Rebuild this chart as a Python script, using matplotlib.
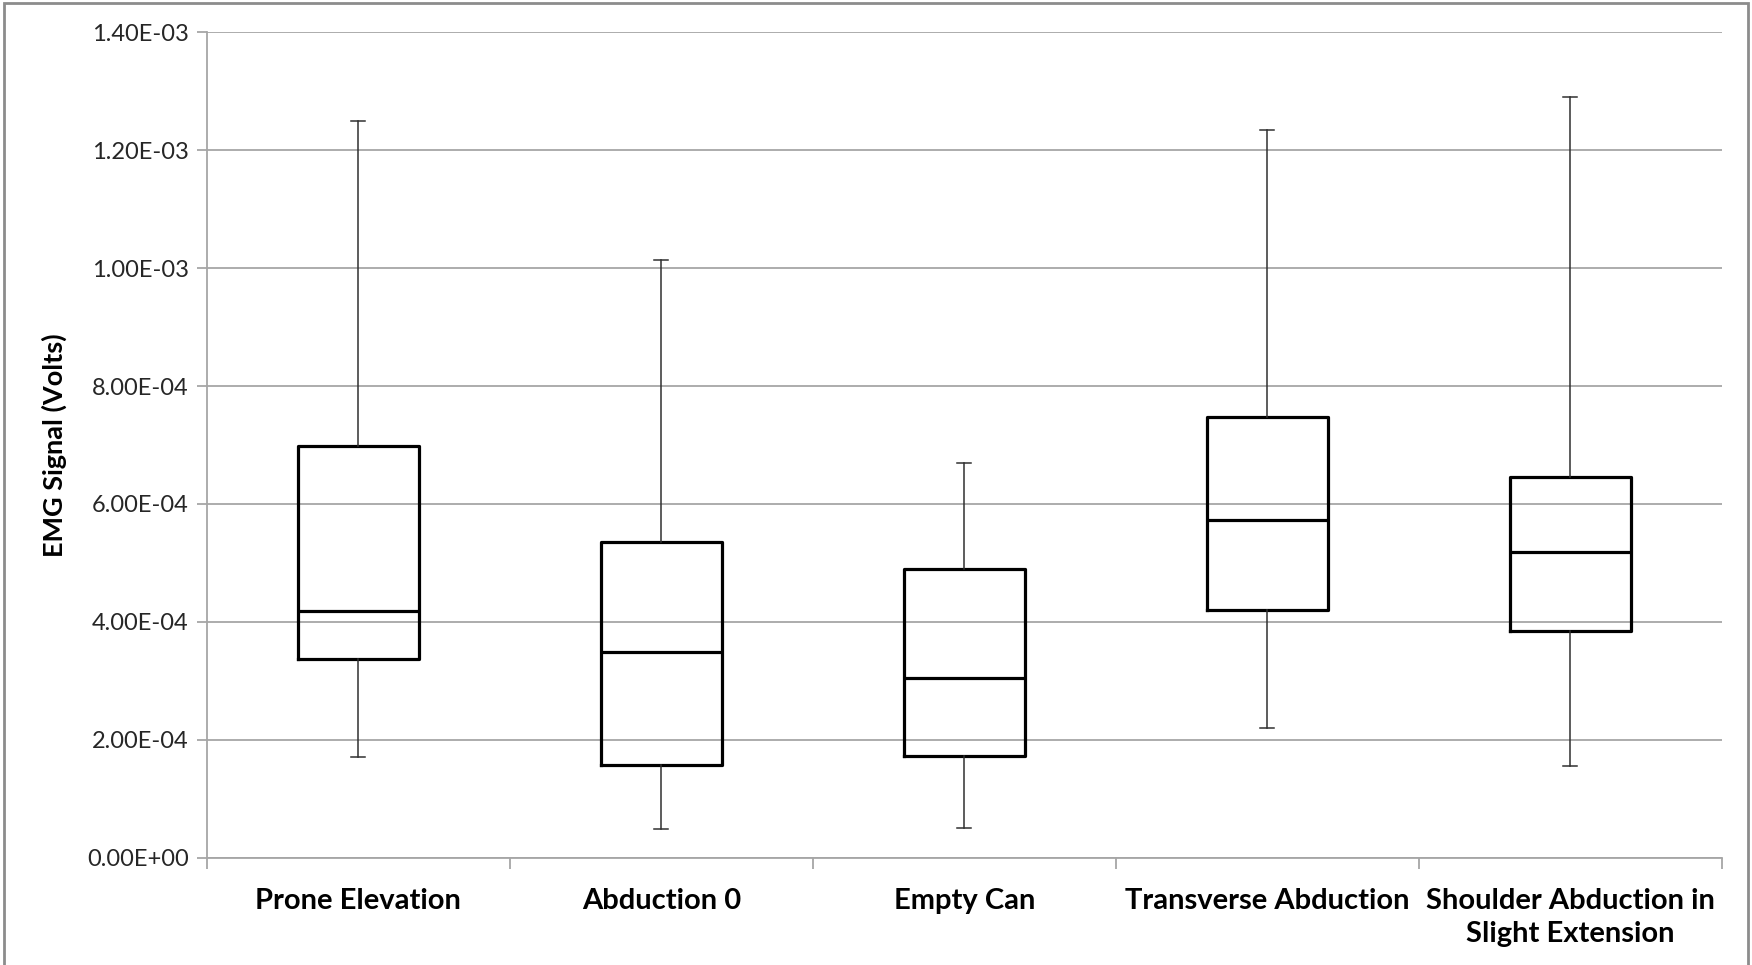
import matplotlib
matplotlib.use('Agg')
import matplotlib.pyplot as plt
from matplotlib.patches import Rectangle
from matplotlib.ticker import FixedLocator, FuncFormatter

plt.rcParams['font.family'] = ['Lato', 'DejaVu Sans']

# EMG summary per exercise (Volts)
exercises = ['Prone Elevation', 'Abduction 0', 'Empty Can',
             'Transverse Abduction', 'Shoulder Abduction in\nSlight Extension']
whisker_low = [1.705e-4, 4.9e-5, 5.1e-5, 2.20e-4, 1.55e-4]
q1 = [3.37e-4, 1.572e-4, 1.724e-4, 4.206e-4, 3.85e-4]
median = [4.187e-4, 3.486e-4, 3.05e-4, 5.72e-4, 5.19e-4]
q3 = [6.99e-4, 5.36e-4, 4.89e-4, 7.48e-4, 6.46e-4]
whisker_high = [1.2504e-3, 1.0136e-3, 6.69e-4, 1.235e-3, 1.29e-3]
y_ticks = [0, 2e-4, 4e-4, 6e-4, 8e-4, 1e-3, 1.2e-3, 1.4e-3]

stats = []
for i, name in enumerate(exercises):
    stats.append({'label': name, 'whislo': whisker_low[i], 'q1': q1[i],
                  'med': median[i], 'q3': q3[i], 'whishi': whisker_high[i],
                  'fliers': []})

fig = plt.figure(figsize=(17.52, 9.65), dpi=100)
ax = fig.add_axes([0.118, 0.1112, 0.8648, 0.8553])

ax.bxp(stats, positions=range(1, 6), widths=0.4, capwidths=0.046,
       showfliers=False, patch_artist=False,
       boxprops=dict(color='black', linewidth=2.3),
       medianprops=dict(color='black', linewidth=2.3),
       whiskerprops=dict(color='#303030', linewidth=1.1),
       capprops=dict(color='#303030', linewidth=1.1))

ax.set_xlim(0.5, 5.5)
ax.set_ylim(0, 1.4e-3)
ax.set_yticks(y_ticks)
ax.yaxis.set_major_formatter(FuncFormatter(
    lambda v, p: '0.00E+00' if v == 0 else '%.2E' % v))
ax.yaxis.grid(True, color='#a6a6a6', linewidth=1.3)
ax.set_axisbelow(True)

ax.set_xticks(range(1, 6))
ax.set_xticklabels(exercises, fontsize=21, fontweight='bold',
                   linespacing=1.3, va='top')
ax.xaxis.set_minor_locator(FixedLocator([0.5, 1.5, 2.5, 3.5, 4.5, 5.5]))
ax.tick_params(axis='x', which='major', length=0, pad=22)
ax.tick_params(axis='x', which='minor', length=8, color='#a6a6a6', width=1.3)
ax.tick_params(axis='y', length=7, color='#a6a6a6', width=1.3,
               labelsize=17, labelcolor='#262626', pad=6)

for side in ['top', 'right']:
    ax.spines[side].set_visible(False)
for side in ['left', 'bottom']:
    ax.spines[side].set_color('#a6a6a6')
    ax.spines[side].set_linewidth(1.3)

ax.set_ylabel('EMG Signal (Volts)', fontsize=19.5, fontweight='bold', labelpad=14)

# chart frame
fig.patches.append(Rectangle((0.002, -0.01), 0.996, 1.007, transform=fig.transFigure,
                             fill=False, edgecolor='#8c8c8c', linewidth=2))

fig.savefig('out.png', dpi=100)
